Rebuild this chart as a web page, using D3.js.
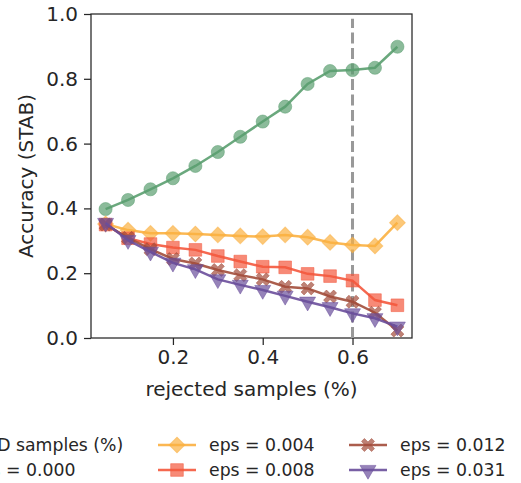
<!DOCTYPE html>
<html>
<head>
<meta charset="utf-8">
<script src="https://cdn.jsdelivr.net/npm/d3@7/dist/d3.min.js"></script>
<style>
    body { margin: 0; background: #fff; }
    svg { display: block; font-family: "DejaVu Sans", sans-serif; }
</style>
</head>
<body>
<div id="chart"></div>
<script>
// Data
const rejected = [0.05, 0.1, 0.15, 0.2, 0.25, 0.3, 0.35, 0.4, 0.45, 0.5, 0.55, 0.6, 0.65, 0.7];
const eps000 = [0.398, 0.426, 0.459, 0.493, 0.531, 0.574, 0.621, 0.668, 0.714, 0.784, 0.824, 0.827, 0.834, 0.899];
const eps004 = [0.352, 0.333, 0.323, 0.323, 0.321, 0.318, 0.315, 0.313, 0.318, 0.311, 0.295, 0.287, 0.284, 0.356];
const eps008 = [0.350, 0.308, 0.290, 0.279, 0.272, 0.253, 0.236, 0.220, 0.218, 0.198, 0.191, 0.177, 0.117, 0.101];
const eps012 = [0.350, 0.309, 0.274, 0.244, 0.230, 0.210, 0.194, 0.181, 0.158, 0.153, 0.128, 0.112, 0.078, 0.023];
const eps031 = [0.355, 0.302, 0.266, 0.232, 0.212, 0.181, 0.164, 0.148, 0.130, 0.112, 0.095, 0.076, 0.061, 0.035];
const seriesLabels = ["eps = 0.000", "eps = 0.004", "eps = 0.008", "eps = 0.012", "eps = 0.031"];
const legendTitle = "OOD samples (%)";
const xTicks = [0.2, 0.4, 0.6];
const yTicks = [0, 0.2, 0.4, 0.6, 0.8, 1.0];
const cutoff = 0.6;

const width = 521, height = 483;
const margin = { top: 14, right: 109, bottom: 145, left: 91 };
const innerW = width - margin.left - margin.right;
const innerH = height - margin.top - margin.bottom;

const textColor = "#262626";
const colors = ["#5a9e6f", "#fbb040", "#f4583d", "#a24c3a", "#6a4e9b"];

// filled "X" marker like matplotlib's
const symbolFilledX = {
    draw(context, size) {
        const r = Math.sqrt(size) / 2;
        const t = r * 0.45;
        const pts = [[-r, -r + t], [-r + t, -r], [0, -t], [r - t, -r], [r, -r + t], [t, 0],
                     [r, r - t], [r - t, r], [0, t], [-r + t, r], [-r, r - t], [-t, 0]];
        context.moveTo(pts[0][0], pts[0][1]);
        for (let i = 1; i < pts.length; i++) context.lineTo(pts[i][0], pts[i][1]);
        context.closePath();
    }
};

const markers = [
    { type: d3.symbolCircle, size: 135, rotate: 0 },
    { type: d3.symbolSquare, size: 125, rotate: 45 },
    { type: d3.symbolSquare, size: 160, rotate: 0 },
    { type: symbolFilledX, size: 170, rotate: 0 },
    { type: d3.symbolTriangle, size: 110, rotate: 180 }
];

const series = [eps000, eps004, eps008, eps012, eps031].map((vals, i) => ({
    label: seriesLabels[i],
    color: colors[i],
    marker: markers[i],
    values: vals.map((v, j) => ({ x: rejected[j], y: v }))
}));

const svg = d3.select("#chart").append("svg")
    .attr("width", width)
    .attr("height", height);

// matplotlib style 5% margins on x
const xPad = (d3.max(rejected) - d3.min(rejected)) * 0.05;
const x = d3.scaleLinear()
    .domain([d3.min(rejected) - xPad, d3.max(rejected) + xPad])
    .range([0, innerW]);
const y = d3.scaleLinear().domain([0, 1]).range([innerH, 0]);

const g = svg.append("g").attr("transform", `translate(${margin.left},${margin.top})`);

// Axes
const xAxis = g.append("g")
    .attr("transform", `translate(0,${innerH})`)
    .call(d3.axisBottom(x).tickValues(xTicks).tickFormat(d3.format(".1f")).tickSize(7).tickPadding(5));
const yAxis = g.append("g")
    .call(d3.axisLeft(y).tickValues(yTicks).tickFormat(d3.format(".1f")).tickSize(7).tickPadding(6));
[xAxis, yAxis].forEach(ax => {
    ax.select(".domain").remove();
    ax.selectAll("line").attr("stroke", textColor).attr("stroke-width", 1.25);
    ax.selectAll("text").attr("fill", textColor).style("font-size", "20px").attr("font-family", "DejaVu Sans");
});

// Frame
g.append("rect")
    .attr("width", innerW)
    .attr("height", innerH)
    .attr("fill", "none")
    .attr("stroke", textColor)
    .attr("stroke-width", 1.25);

// Axis labels
g.append("text")
    .attr("x", innerW / 2)
    .attr("y", innerH + 58)
    .attr("text-anchor", "middle")
    .attr("fill", textColor)
    .style("font-size", "20px")
    .text("rejected samples (%)");
g.append("text")
    .attr("transform", `translate(${-margin.left + 33},${innerH / 2}) rotate(-90)`)
    .attr("text-anchor", "middle")
    .attr("fill", textColor)
    .style("font-size", "20px")
    .text("Accuracy (STAB)");

// Cut-off line
g.append("line")
    .attr("x1", x(cutoff)).attr("x2", x(cutoff))
    .attr("y1", y(0)).attr("y2", y(0.985))
    .attr("stroke", "#999999")
    .attr("stroke-width", 3)
    .attr("stroke-dasharray", "11,4.5");

// Series
const line = d3.line().x(d => x(d.x)).y(d => y(d.y));
series.forEach(s => {
    const sg = g.append("g");
    sg.append("path")
        .datum(s.values)
        .attr("d", line)
        .attr("fill", "none")
        .attr("stroke", s.color)
        .attr("stroke-width", 2.5)
        .attr("opacity", 0.9);
    sg.selectAll(".pt")
        .data(s.values)
        .enter()
        .append("path")
        .attr("class", "pt")
        .attr("d", d3.symbol().type(s.marker.type).size(s.marker.size))
        .attr("transform", d => `translate(${x(d.x)},${y(d.y)}) rotate(${s.marker.rotate})`)
        .attr("fill", s.color)
        .attr("fill-opacity", 0.7)
        .attr("stroke", s.color)
        .attr("stroke-opacity", 0.5)
        .attr("stroke-width", 1);
});

// Legend (runs off the left edge, as in the original)
const legend = svg.append("g").style("font-size", "17.3px");
const rowY = [445, 470];
const cols = [
    { textX: -30, items: [{ title: legendTitle }, series[0]] },
    { textX: 209, items: [series[1], series[2]] },
    { textX: 400, items: [series[3], series[4]] }
];
cols.forEach(col => {
    col.items.forEach((it, r) => {
        const cy = rowY[r];
        if (it.title) {
            legend.append("text")
                .attr("x", col.textX).attr("y", cy)
                .attr("dy", "0.35em")
                .attr("fill", textColor)
                .text(it.title);
            return;
        }
        const hx0 = col.textX - 51, hx1 = col.textX - 13;
        legend.append("line")
            .attr("x1", hx0).attr("x2", hx1)
            .attr("y1", cy).attr("y2", cy)
            .attr("stroke", it.color)
            .attr("stroke-width", 2.5)
            .attr("opacity", 0.9);
        legend.append("path")
            .attr("d", d3.symbol().type(it.marker.type).size(it.marker.size))
            .attr("transform", `translate(${(hx0 + hx1) / 2},${cy}) rotate(${it.marker.rotate})`)
            .attr("fill", it.color)
            .attr("fill-opacity", 0.7)
            .attr("stroke", it.color)
            .attr("stroke-opacity", 0.5);
        legend.append("text")
            .attr("x", col.textX).attr("y", cy)
            .attr("dy", "0.35em")
            .attr("fill", textColor)
            .text(it.label);
    });
});
</script>
</body>
</html>
